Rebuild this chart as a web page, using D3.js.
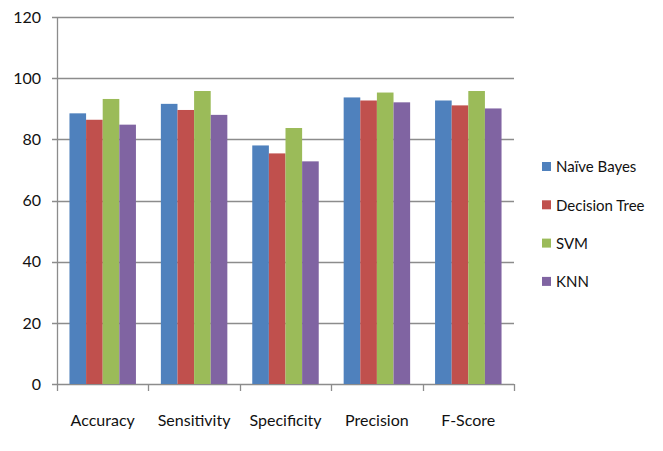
<!DOCTYPE html>
<html>
<head>
<meta charset="utf-8">
<script src="https://cdn.jsdelivr.net/npm/d3@7"></script>
<style>
  html, body { margin: 0; padding: 0; background: #fff; }
  svg { display: block; font-family: Lato, "Open Sans", sans-serif; }
</style>
</head>
<body>
<svg id="chart" width="663" height="451"></svg>
<script>
// Metric categories along the x axis
const metrics = ["Accuracy", "Sensitivity", "Specificity", "Precision", "F-Score"];

// Classifier names (legend order)
const classifiers = ["Naïve Bayes", "Decision Tree", "SVM", "KNN"];

// Scores (%) per classifier, in metric order
const naiveBayes   = [88.5, 91.6, 78.0, 93.7, 92.7];
const decisionTree = [86.4, 89.6, 75.4, 92.7, 91.1];
const svm          = [93.2, 95.8, 83.7, 95.3, 95.8];
const knn          = [84.8, 88.0, 72.8, 92.1, 90.1];

const yTicks = [0, 20, 40, 60, 80, 100, 120];
const colors = ["#4F81BD", "#C0504D", "#9BBB59", "#8064A2"];

const seriesValues = [naiveBayes, decisionTree, svm, knn];

const svg = d3.select("#chart");
const plot = { left: 57, right: 514, top: 17, bottom: 384 };

const x = d3.scaleBand()
  .domain(metrics)
  .range([plot.left, plot.right])
  .paddingInner(0)
  .paddingOuter(0);

// 150% gap between groups (0.75 bar width on each side), bars touching inside a group
const inner = d3.scaleBand()
  .domain(classifiers)
  .range([0, x.bandwidth()])
  .paddingInner(0)
  .paddingOuter(0.75);

const y = d3.scaleLinear().domain([0, 120]).range([plot.bottom, plot.top]);

const grid = "#8c8c8c";
const textColor = "#111";

// Horizontal gridlines with small ticks to the left of the axis
svg.append("g")
  .selectAll("line")
  .data(yTicks)
  .join("line")
  .attr("x1", plot.left - 5)
  .attr("x2", plot.right)
  .attr("y1", d => Math.round(y(d)) + 0.5)
  .attr("y2", d => Math.round(y(d)) + 0.5)
  .attr("stroke", grid)
  .attr("stroke-width", 1.3);

// Y axis tick labels
svg.append("g")
  .selectAll("text")
  .data(yTicks)
  .join("text")
  .attr("x", 41)
  .attr("y", d => y(d))
  .attr("dy", "0.36em")
  .attr("text-anchor", "end")
  .attr("font-size", 16)
  .attr("fill", textColor)
  .text(d => d);

// Bars
const groups = svg.append("g")
  .selectAll("g")
  .data(metrics)
  .join("g")
  .attr("transform", d => `translate(${x(d)},0)`);

groups.selectAll("rect")
  .data((m, i) => classifiers.map((c, k) => ({ c, k, v: seriesValues[k][i] })))
  .join("rect")
  .attr("x", d => inner(d.c))
  .attr("width", inner.bandwidth())
  .attr("y", d => y(d.v))
  .attr("height", d => y(0) - y(d.v))
  .attr("fill", d => colors[d.k]);

// Vertical axis line
svg.append("line")
  .attr("x1", plot.left + 0.5).attr("x2", plot.left + 0.5)
  .attr("y1", plot.top).attr("y2", plot.bottom + 0.5)
  .attr("stroke", grid).attr("stroke-width", 1.3);

// X axis category separators
const boundaries = metrics.map(m => x(m)).concat([plot.right]);
svg.append("g")
  .selectAll("line")
  .data(boundaries)
  .join("line")
  .attr("x1", d => Math.round(d) + 0.5)
  .attr("x2", d => Math.round(d) + 0.5)
  .attr("y1", plot.bottom)
  .attr("y2", plot.bottom + 7)
  .attr("stroke", grid)
  .attr("stroke-width", 1.3);

// X axis labels
svg.append("g")
  .selectAll("text")
  .data(metrics)
  .join("text")
  .attr("x", d => x(d) + x.bandwidth() / 2)
  .attr("y", 426)
  .attr("text-anchor", "middle")
  .attr("font-size", 16)
  .attr("fill", textColor)
  .text(d => d);

// Legend
const legend = svg.append("g")
  .selectAll("g")
  .data(classifiers)
  .join("g")
  .attr("transform", (d, i) => `translate(542,${167 + i * 38.3})`);

legend.append("rect")
  .attr("x", 0).attr("y", -5)
  .attr("width", 9).attr("height", 9)
  .attr("fill", (d, i) => colors[i]);

legend.append("text")
  .attr("x", 14)
  .attr("y", 0)
  .attr("dy", "0.36em")
  .attr("font-size", 15)
  .attr("fill", textColor)
  .text(d => d);
</script>
</body>
</html>
